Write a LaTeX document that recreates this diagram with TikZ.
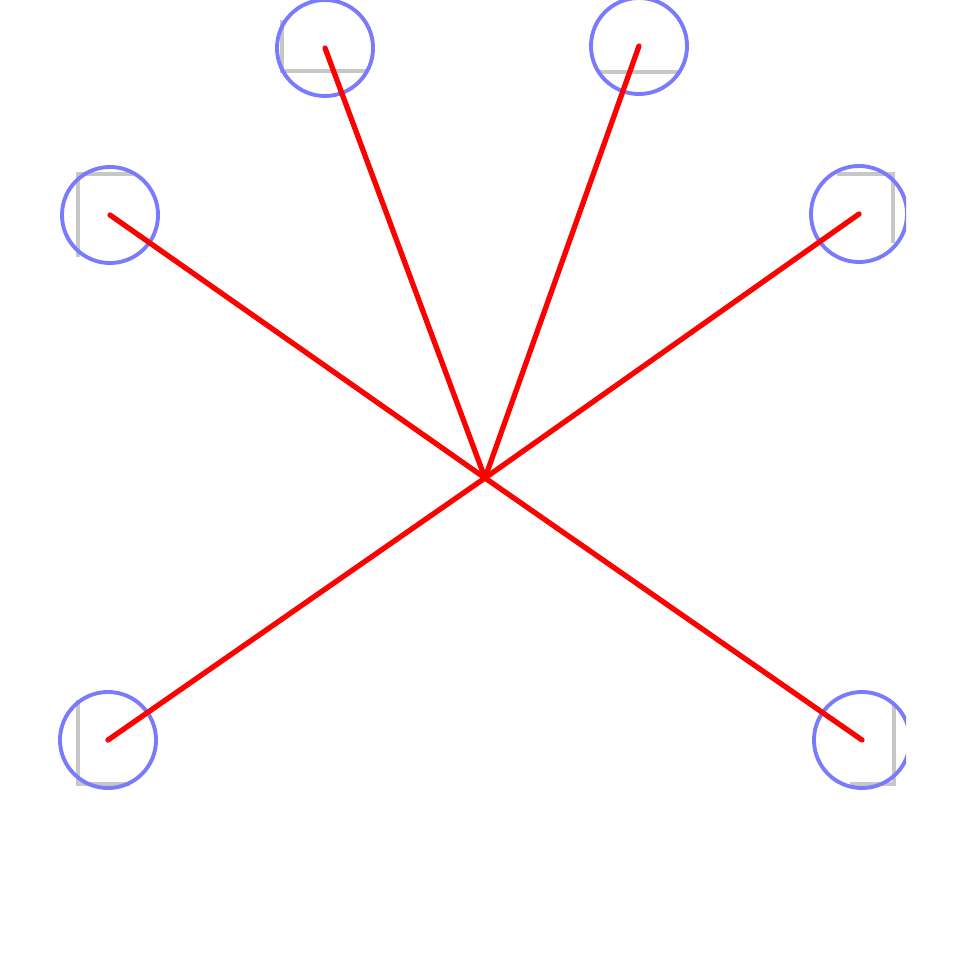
\documentclass[tikz,border=0pt]{standalone}
\begin{document}
\begin{tikzpicture}[x=0.01cm,y=-0.01cm,
  ring/.style={circle,draw=blue!52!white,line width=1.1pt,minimum size=0.96cm,inner sep=0pt},
  spoke/.style={red,line width=1.5pt,line cap=round},
  guide/.style={black!22,line width=1pt}]
\useasboundingbox (0,0) rectangle (967,967);
\begin{scope}
\clip (0,0) rectangle (906,967);
\draw[guide] (282,20) -- (282,71) -- (368,71);
\draw[guide] (597,72) -- (680,72);
\draw[guide] (78,257) -- (78,174) -- (133,174);
\draw[guide] (837,174) -- (893,174) -- (893,243);
\draw[guide] (78,700) -- (78,784) -- (130,784);
\draw[guide] (850,784) -- (894,784) -- (894,703);
\node[ring] (c1) at (325,48) {};
\node[ring] (c2) at (639,46) {};
\node[ring] (c3) at (110,215) {};
\node[ring] (c4) at (859,214) {};
\node[ring] (c5) at (108,740) {};
\node[ring] (c6) at (862,740) {};
\end{scope}
\coordinate (hub) at (485,478);
\foreach \n in {c1,c2,c3,c4,c5,c6}
  \draw[spoke] (hub) -- (\n.center);
\end{tikzpicture}
\end{document}
